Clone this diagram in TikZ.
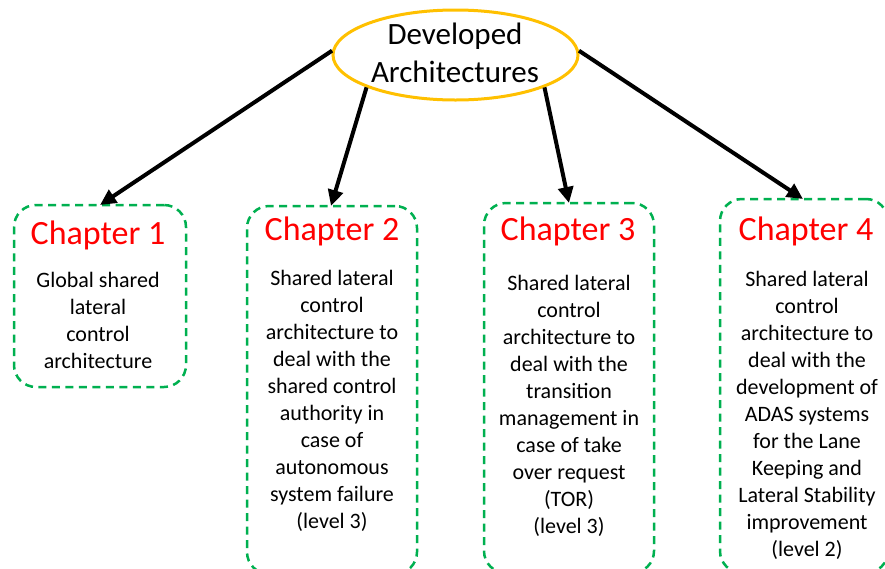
\documentclass[tikz,border=0pt]{standalone}
\usepackage{fontspec}
\setmainfont{Carlito}
\usetikzlibrary{shapes.geometric,arrows.meta}
\definecolor{boxgreen}{RGB}{0,176,80}
\definecolor{gold}{RGB}{255,192,0}
\definecolor{chred}{RGB}{255,0,0}
\tikzset{
  chbox/.style={draw=boxgreen, line width=2.5pt, dash pattern=on 8pt off 5.5pt, rounded corners=22pt, inner sep=0pt},
  chtitle/.style={text=chred, font=\fontsize{34}{40}\selectfont, inner sep=0pt},
  chbody/.style={align=center, font=\fontsize{22}{27}\selectfont, inner sep=0pt},
  conn/.style={line width=4pt, -{Triangle[length=16pt,width=15pt]}},
}
\begin{document}
\begin{tikzpicture}[x=1pt,y=-1pt]
\useasboundingbox (0,0) rectangle (885,568);
\node[ellipse, draw=gold, line width=3pt, minimum width=245pt, minimum height=90pt, inner sep=0pt] (top) at (455.5,55) {};
\node[align=center, font=\fontsize{31}{38}\selectfont, inner sep=0pt] (toptext) at (455,53) {Developed\\Architectures};
\node[chbox, minimum width=172pt, minimum height=182pt] (b1) at (100,296) {};
\node[chbox, minimum width=170pt, minimum height=368pt] (b2) at (332,390) {};
\node[chbox, minimum width=170pt, minimum height=370pt] (b3) at (569,388) {};
\node[chbox, minimum width=168pt, minimum height=374pt] (b4) at (804,386) {};
\node[chtitle] (t1) at (98,235) {Chapter 1};
\node[chtitle] (t2) at (332,231) {Chapter 2};
\node[chtitle] (t3) at (568,231) {Chapter 3};
\node[chtitle] (t4) at (806,231) {Chapter 4};
\node[chbody] (d1) at (98,320) {Global shared\\lateral\\control\\architecture};
\node[chbody] (d2) at (332,401) {Shared lateral\\control\\architecture to\\deal with the\\shared control\\authority in\\case of\\autonomous\\system failure\\(level 3)};
\node[chbody] (d3) at (569,406) {Shared lateral\\control\\architecture to\\deal with the\\transition\\management in\\case of take\\over request\\(TOR)\\(level 3)};
\node[chbody] (d4) at (807,415) {Shared lateral\\control\\architecture to\\deal with the\\development of\\ADAS systems\\for the Lane\\Keeping and\\Lateral Stability\\improvement\\(level 2)};
\coordinate (e1) at (100,205);
\coordinate (e2) at (331,206);
\coordinate (e3) at (569,203);
\coordinate (e4) at (803,199);
\draw[conn] (top.178) -- (e1);
\draw[conn] (top.-160) -- (e2);
\draw[conn] (top.-20) -- (e3);
\draw[conn] (top.2) -- (e4);
\end{tikzpicture}
\end{document}
